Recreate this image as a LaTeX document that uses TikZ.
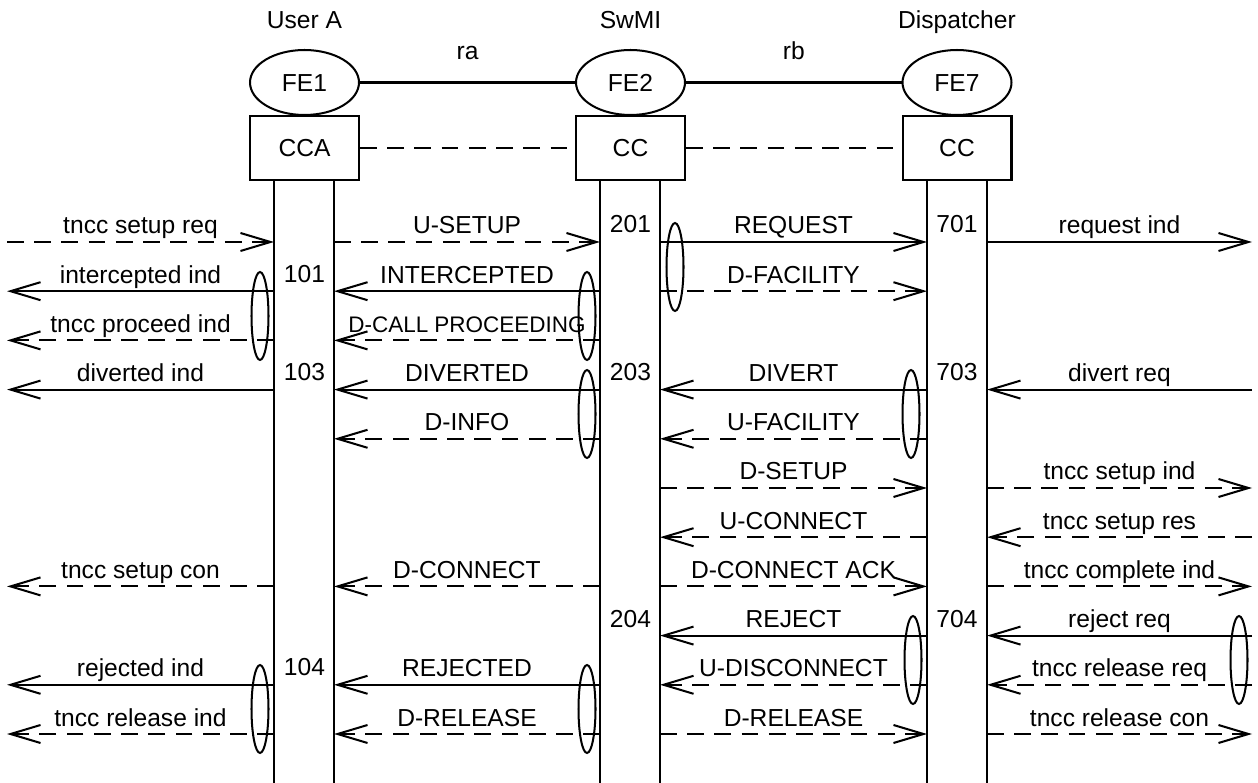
\documentclass[tikz,border=0pt]{standalone}
\usepackage{fontspec}
\setmainfont{Liberation Sans}
\usetikzlibrary{arrows.meta,shapes.geometric}
\begin{document}
\begin{tikzpicture}[x=0.02cm,y=-0.02cm,line width=1.15pt,
    font=\fontsize{14}{17}\selectfont,
    fe/.style={draw,ellipse,minimum width=2.18cm,minimum height=1.3cm,inner sep=0pt,text height=10pt,text depth=0pt},
    ccbox/.style={draw,rectangle,minimum width=2.18cm,minimum height=1.28cm,inner sep=0pt,text height=10pt,text depth=0pt},
    grp/.style={draw,ellipse,minimum width=0.34cm,minimum height=1.76cm,inner sep=0pt},
    dsh/.style={dash pattern=on 9.5pt off 6pt},
    sld/.style={},
    msg/.style={-{Straight Barb[length=0.6cm,width=0.36cm]}},
    lbl/.style={midway,anchor=base,yshift=0.16cm,inner sep=0pt},
    num/.style={anchor=base,inner sep=0pt}]
    \useasboundingbox (0,0) rectangle (1258,783);
    % entities
    \node[anchor=base] (usera) at (304.5,29) {User A};
    \node[anchor=base] (swmi) at (630.5,29) {SwMI};
    \node[anchor=base] (disp) at (957,29) {Dispatcher};
    \node[fe] (fe1) at (304.5,82.5) {FE1};
    \node[fe] (fe2) at (630.5,82.5) {FE2};
    \node[fe] (fe7) at (957,82.5) {FE7};
    \node[ccbox] (cca) at (304.5,148) {CCA};
    \node[ccbox] (cc2) at (630.5,148) {CC};
    \node[ccbox] (cc7) at (957,148) {CC};
    \draw (fe1) -- node[anchor=base,yshift=0.46cm] (ra) {ra} (fe2);
    \draw (fe2) -- node[anchor=base,yshift=0.46cm] (rb) {rb} (fe7);
    \draw[dsh] (cca) -- (cc2);
    \draw[dsh] (cc2) -- (cc7);
    % lifelines
    \foreach \n/\x/\bx in {A1/274/cca,A2/334/cca,B1/600/cc2,B2/660/cc2,C1/927/cc7,C2/987/cc7}{
        \coordinate (\n) at (\x,783);
        \draw (\bx.south -| \n) -- (\n);
    }
    % messages: row/from/to/style/label
    \foreach \r/\xa/\xb/\st/\txt [evaluate=\r as \y using 242+49.2*(\r-1)] in {
        1/7/274/dsh/tncc setup req, 1/334/600/dsh/U-SETUP, 1/660/927/sld/REQUEST, 1/987/1252/sld/request ind,
        2/274/7/sld/intercepted ind, 2/600/334/sld/INTERCEPTED, 2/660/927/dsh/D-FACILITY,
        3/274/7/dsh/tncc proceed ind, 3/600/334/dsh/{\fontsize{12.8}{15}\selectfont D-CALL PROCEEDING},
        4/274/7/sld/diverted ind, 4/600/334/sld/DIVERTED, 4/927/660/sld/DIVERT, 4/1252/987/sld/divert req,
        5/600/334/dsh/D-INFO, 5/927/660/dsh/U-FACILITY,
        6/660/927/dsh/D-SETUP, 6/987/1252/dsh/tncc setup ind,
        7/927/660/dsh/U-CONNECT, 7/1252/987/dsh/tncc setup res,
        8/274/7/dsh/tncc setup con, 8/600/334/dsh/D-CONNECT, 8/660/927/dsh/D-CONNECT ACK, 8/987/1252/dsh/tncc complete ind,
        9/927/660/sld/REJECT, 9/1252/987/sld/reject req,
        10/274/7/sld/rejected ind, 10/600/334/sld/REJECTED, 10/927/660/dsh/U-DISCONNECT, 10/1252/987/dsh/tncc release req,
        11/274/7/dsh/tncc release ind, 11/600/334/dsh/D-RELEASE, 11/660/927/dsh/D-RELEASE, 11/987/1252/dsh/tncc release con}{
        \path (\xa,\y) coordinate (m-\r-\xa) (\xb,\y) coordinate (m-\r-\xb);
        \draw[msg,\st] (m-\r-\xa) -- node[lbl] {\txt} (m-\r-\xb);
    }
    % state numbers
    \foreach \x/\y/\n in {630.5/233/201, 957/233/701, 304.5/283/101, 304.5/381/103, 630.5/381/203,
        957/381/703, 630.5/627/204, 957/627/704, 304.5/675/104}
        \node[num] (n\n) at (\x,\y) {\n};
    % grouping ellipses
    \foreach \x/\y [count=\i] in {260/316, 587/316, 675/267, 587/414, 911/414, 913/660, 1239/660, 260/709, 587/709}
        \node[grp] (g\i) at (\x,\y) {};
\end{tikzpicture}
\end{document}
